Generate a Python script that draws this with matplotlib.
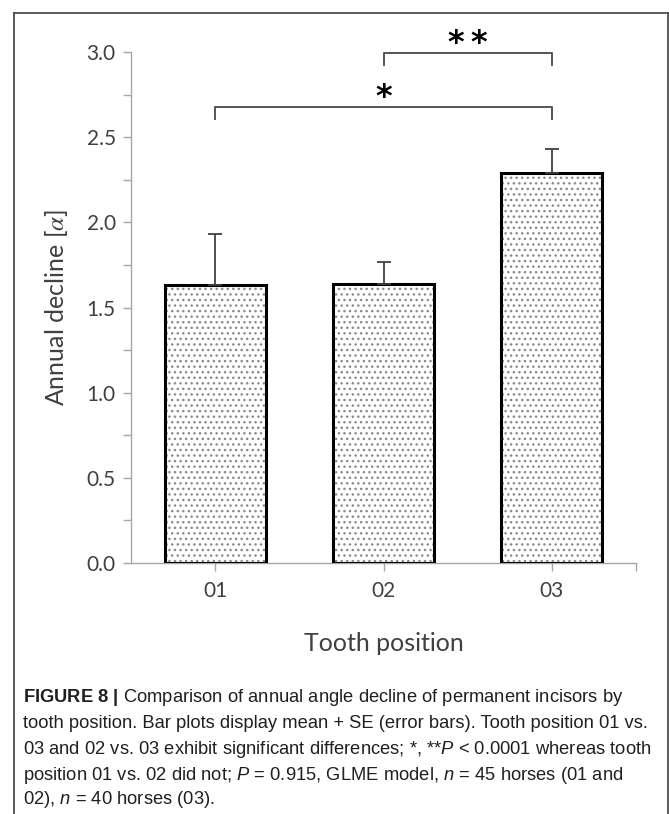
import numpy as np
import matplotlib
matplotlib.use("Agg")
import matplotlib.pyplot as plt
from matplotlib.lines import Line2D
from matplotlib.ticker import MultipleLocator

# Annual angle decline per tooth position (mean and SE)
positions = ["01", "02", "03"]
mean_decline = [1.63, 1.64, 2.29]
se_decline = [0.30, 0.13, 0.14]

caption_lines = [
    r"$\mathbf{FIGURE\ 8\ |}$ Comparison of annual angle decline of permanent incisors by",
    "tooth position. Bar plots display mean + SE (error bars). Tooth position 01 vs.",
    r"03 and 02 vs. 03 exhibit significant differences; *, **$\mathit{P}$ < 0.0001 whereas tooth",
    r"position 01 vs. 02 did not; $\mathit{P}$ = 0.915, GLME model, $\mathit{n}$ = 45 horses (01 and",
    r"02), $\mathit{n}$ = 40 horses (03).",
]

plt.rcParams["font.family"] = ["Lato", "DejaVu Sans"]
plt.rcParams["mathtext.fontset"] = "custom"
plt.rcParams["mathtext.rm"] = "Liberation Sans"
plt.rcParams["mathtext.it"] = "Liberation Sans:italic"
plt.rcParams["mathtext.bf"] = "Liberation Sans:bold"
plt.rcParams["hatch.linewidth"] = 1.0

W, H = 669, 814
fig = plt.figure(figsize=(W / 100, H / 100), dpi=100)
ax = fig.add_axes([131 / W, 1 - 563 / H, 505 / W, 511 / H])

x = np.arange(len(positions))
ax.bar(x, mean_decline, width=0.6, color="white", edgecolor="#8a8a8a",
       hatch="...", linewidth=0, zorder=2)
ax.bar(x, mean_decline, width=0.6, fill=False, edgecolor="black",
       linewidth=2.2, zorder=3)
ax.errorbar(x, mean_decline, yerr=[np.zeros(len(x)), se_decline], fmt="none",
            ecolor="#404040", elinewidth=1.3, capsize=5, capthick=1.3, zorder=4)

axis_grey = "#a6a6a6"
for side in ["top", "right"]:
    ax.spines[side].set_visible(False)
for side in ["left", "bottom"]:
    ax.spines[side].set_color(axis_grey)
    ax.spines[side].set_linewidth(1.0)

ax.set_xlim(-0.5, 2.5)
ax.set_ylim(0, 3.0)
ax.set_xticks(x)
ax.set_xticklabels(positions)
ax.set_xticks([2.5], minor=True)
ax.set_yticks(np.arange(0, 3.01, 0.5))
ax.yaxis.set_minor_locator(MultipleLocator(0.25))
ax.set_yticklabels([f"{v:.1f}" for v in np.arange(0, 3.01, 0.5)])
ax.tick_params(axis="both", which="both", direction="out", length=6,
               color=axis_grey, width=1.0, labelcolor="#404040", labelsize=15)
ax.tick_params(axis="y", pad=5)
ax.tick_params(axis="x", pad=7)

ax.set_xlabel("Tooth position", fontsize=18, color="#404040", labelpad=22)
ax.set_ylabel(r"Annual decline [$\alpha$]", fontsize=18, color="#404040",
              labelpad=12, math_fontfamily="stix")

# significance brackets
def bracket(x0, x1, y, drop, label, label_y):
    ax.plot([x0, x0, x1, x1], [y - drop, y, y, y - drop], color="#555555",
            lw=1.4, clip_on=False, zorder=5)
    ax.text((x0 + x1) / 2, label_y, label, ha="center", va="center",
            fontsize=23, fontweight="bold", color="black",
            family="DejaVu Sans")

bracket(0, 2, 2.676, 0.07, "*", 2.73)
bracket(1, 2, 2.994, 0.07, "*\u2009*", 3.05)

# frame around the figure
frame = dict(transform=fig.transFigure, color="#4d4d4d", lw=1.3)
l, r, t = 14 / W, 668 / W, 1 - 13 / H
fig.add_artist(Line2D([l, l], [0, t], **frame))
fig.add_artist(Line2D([l, r], [t, t], **frame))
fig.add_artist(Line2D([r, r], [0, t], **frame))

caption_y = [697, 724, 750, 775, 800]
for line, yy in zip(caption_lines, caption_y):
    fig.text(23 / W, 1 - yy / H, line, fontsize=13.2, va="center", ha="left",
             color="#231f20", family="Liberation Sans")

fig.savefig("out.png", dpi=100)
